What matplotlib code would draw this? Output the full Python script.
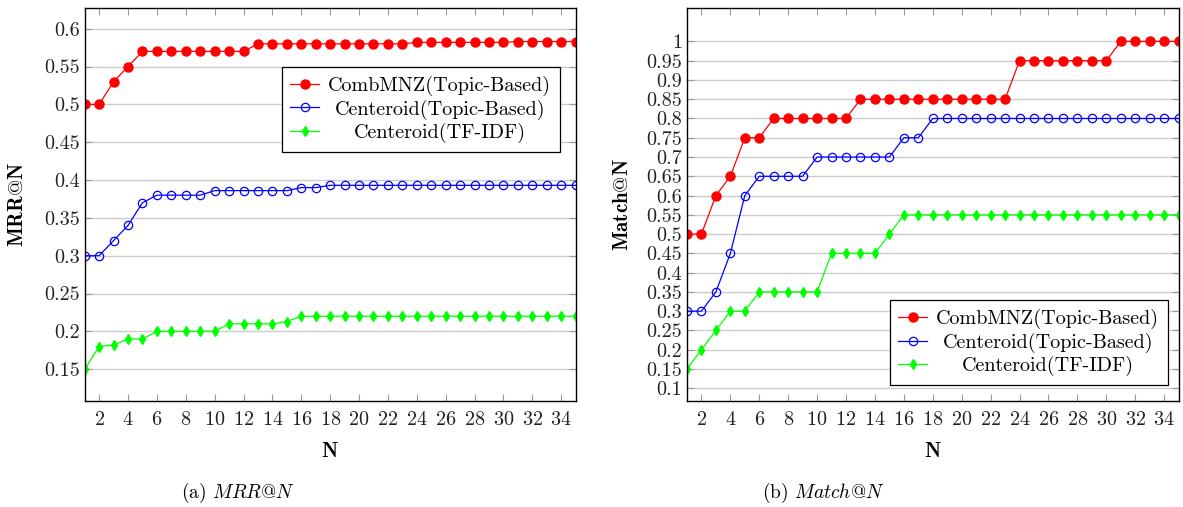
import matplotlib
matplotlib.use("Agg")
import matplotlib.pyplot as plt
import numpy as np

plt.rcParams['font.family'] = 'serif'
plt.rcParams['font.serif'] = ['cmr10']
plt.rcParams['mathtext.fontset'] = 'cm'
plt.rcParams['axes.unicode_minus'] = False
plt.rcParams['axes.formatter.use_mathtext'] = True

# Datos
n = list(range(1, 36))
xticks = list(range(2, 35, 2))

mrr_combmnz = [0.5, 0.5, 0.53, 0.55] + [0.57] * 8 + [0.58] * 11 + [0.582] * 7 + [0.583] * 5
mrr_centroid_topic = [0.3, 0.3, 0.32, 0.34, 0.37] + [0.38] * 4 + [0.386] * 6 + [0.39] * 2 + [0.393] * 18
mrr_centroid_tfidf = [0.15, 0.18, 0.182, 0.19, 0.19] + [0.2] * 5 + [0.21] * 4 + [0.213] + [0.22] * 20

match_combmnz = [0.5, 0.5, 0.6, 0.65, 0.75, 0.75] + [0.8] * 6 + [0.85] * 11 + [0.95] * 7 + [1.0] * 5
match_centroid_topic = [0.3, 0.3, 0.35, 0.45, 0.6] + [0.65] * 4 + [0.7] * 6 + [0.75] * 2 + [0.8] * 18
match_centroid_tfidf = [0.15, 0.2, 0.25, 0.3, 0.3] + [0.35] * 5 + [0.45] * 4 + [0.5] + [0.55] * 20

mrr_yticks = [0.15, 0.2, 0.25, 0.3, 0.35, 0.4, 0.45, 0.5, 0.55, 0.6]
match_yticks = [0.1, 0.15, 0.2, 0.25, 0.3, 0.35, 0.4, 0.45, 0.5, 0.55, 0.6, 0.65,
                0.7, 0.75, 0.8, 0.85, 0.9, 0.95, 1.0]

labels = ['CombMNZ(Topic-Based)', 'Centeroid(Topic-Based)', 'Centeroid(TF-IDF)']


def dibujar(ax, series, yticks, ylim, ylabel):
    rojo, azul, verde = series
    ax.plot(n, rojo, color='#ff0000', lw=0.9, marker='o', ms=6.5, label=labels[0])
    ax.plot(n, azul, color='#0000ff', lw=0.9, marker='o', ms=6, mfc='none',
            mew=0.9, label=labels[1])
    ax.plot(n, verde, color='#00ff00', lw=0.9, marker='d', ms=5.5, label=labels[2])
    ax.set_xlim(1, 35)
    ax.set_ylim(*ylim)
    ax.set_xticks(xticks)
    ax.set_yticks(yticks)
    ax.set_yticklabels(['%g' % v for v in yticks])
    ax.tick_params(direction='in', top=True, right=True, length=5, width=0.8,
                   color='#999999', labelsize=14.5, labelcolor='#222222')
    ax.tick_params(axis='x', pad=7)
    ax.grid(axis='y', color='#cccccc', lw=1.0)
    ax.set_axisbelow(True)
    for s in ax.spines.values():
        s.set_linewidth(1.0)
    ax.set_xlabel(r'$\mathbf{N}$', fontsize=15)
    ax.set_ylabel(ylabel, fontsize=15)


fig = plt.figure(figsize=(11.83, 5.07), dpi=100)
ax1 = fig.add_axes([0.0716, 0.2091, 0.4150, 0.7746])
ax2 = fig.add_axes([0.5807, 0.2091, 0.4156, 0.7746])

dibujar(ax1, (mrr_combmnz, mrr_centroid_topic, mrr_centroid_tfidf), mrr_yticks,
        (0.108, 0.627), r'$\mathbf{MRR@N}$')
dibujar(ax2, (match_combmnz, match_centroid_topic, match_centroid_tfidf), match_yticks,
        (0.067, 1.086), r'$\mathbf{Match@N}$')

ax1.yaxis.set_label_coords(-0.1175, 0.5)
ax2.yaxis.set_label_coords(-0.112, 0.5)
ax1.xaxis.set_label_coords(0.5, -0.105)
ax2.xaxis.set_label_coords(0.5, -0.105)

leyendas = []
for ax, loc, anchor in [(ax1, 'upper right', (0.968, 0.85)),
                        (ax2, 'lower right', (0.978, 0.041))]:
    leg = ax.legend(loc=loc, bbox_to_anchor=anchor, borderaxespad=0, fontsize=14.5,
                    fancybox=False, edgecolor='black', framealpha=1,
                    handlelength=1.45, labelspacing=0.18, borderpad=0.42,
                    handletextpad=0.45)
    leg.get_frame().set_linewidth(0.9)
    leyendas.append(leg)

# centrar los textos de la leyenda como en pgfplots
fig.canvas.draw()
renderer = fig.canvas.get_renderer()
for leg in leyendas:
    textos = leg.get_texts()
    anchos = [t.get_window_extent(renderer).width for t in textos]
    wmax = max(anchos)
    for t, w in zip(textos, anchos):
        t.set_x((wmax - w) / 2)

fig.text(238 / 1183, 1 - 493 / 507, r'(a) $\mathit{MRR@N}$', ha='center', va='center',
         fontsize=14)
fig.text(823 / 1183, 1 - 493 / 507, r'(b) $\mathit{Match@N}$', ha='center', va='center',
         fontsize=14)

fig.savefig('out.png', dpi=100)
